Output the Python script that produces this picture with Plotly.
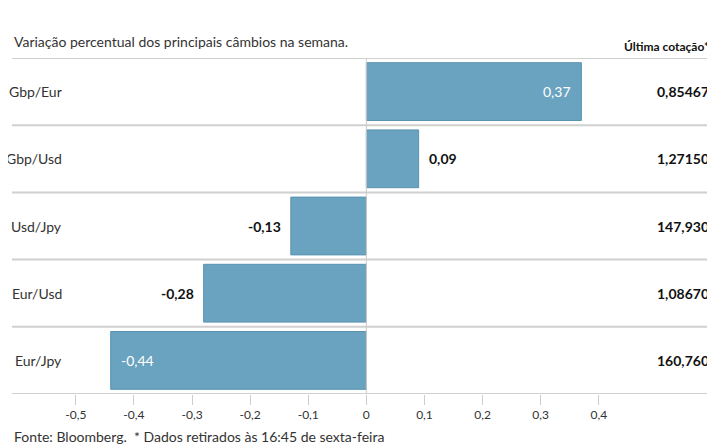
import plotly.graph_objects as go

pairs = ["Gbp/Eur", "Gbp/Usd", "Usd/Jpy", "Eur/Usd", "Eur/Jpy"]
values = [0.37, 0.09, -0.13, -0.28, -0.44]
quotes = ["0,85467", "1,27150", "147,930", "1,08670", "160,760"]
ticks = [-0.5, -0.4, -0.3, -0.2, -0.1, 0, 0.1, 0.2, 0.3, 0.4]

W, H = 715, 445
fnt = "Lato"
fig = go.Figure(go.Bar(y=pairs, x=values, orientation="h", width=0.86,
                       marker=dict(color="#6aa3bf", line=dict(color="#5a93af", width=1))))

def fmt(v):
    return ("%.2f" % v).replace(".", ",")

ann = []
for p, v, q in zip(pairs, values, quotes):
    ann.append(dict(x=0, xref="paper", y=p, yref="y", text=p, showarrow=False,
                    xanchor="right", xshift=-6, font=dict(family=fnt, size=14, color="#333")))
    if abs(v) > 0.3:
        ann.append(dict(x=v, y=p, text=fmt(v), showarrow=False,
                        xanchor="right" if v > 0 else "left", xshift=-8 if v > 0 else 8,
                        font=dict(family=fnt, size=14, color="white")))
    else:
        ann.append(dict(x=v, y=p, text="<b>%s</b>" % fmt(v), showarrow=False,
                        xanchor="left" if v > 0 else "right", xshift=8 if v > 0 else -8,
                        font=dict(family=fnt, size=14, color="#111")))
    ann.append(dict(x=1, xref="paper", y=p, text="<b>%s</b>" % q, showarrow=False,
                    xanchor="right", xshift=-4, font=dict(family=fnt, size=14, color="#111")))
ann += [
    dict(x=0, xref="paper", xshift=-58, y=1.08, yref="paper", text="Variação percentual dos principais câmbios na semana.",
         showarrow=False, xanchor="left", font=dict(family=fnt, size=14, color="#333")),
    dict(x=1, xref="paper", xshift=-4, y=1.005, yref="paper", yanchor="bottom", text="<b>Última cotação*</b>",
         showarrow=False, xanchor="right", font=dict(family=fnt, size=12, color="#111")),
    dict(x=0, xref="paper", xshift=-58, y=-0.095, yref="paper", yanchor="top",
         text="Fonte: Bloomberg.  * Dados retirados às 16:45 de sexta-feira",
         showarrow=False, xanchor="left", font=dict(family=fnt, size=14, color="#333")),
]

shapes = [dict(type="line", xref="paper", x0=-0.09, x1=1, yref="y", y0=k - 0.5, y1=k - 0.5,
               line=dict(color="#d0d0d0", width=2)) for k in range(6)]
shapes.append(dict(type="line", x0=0, x1=0, yref="paper", y0=0, y1=1, line=dict(color="#ccc", width=1)))

fig.update_layout(
    width=W, height=H, margin=dict(l=62, r=8, t=50, b=59),
    paper_bgcolor="white", plot_bgcolor="white", showlegend=False,
    annotations=ann, shapes=shapes,
    xaxis=dict(range=[-0.51, 0.6], tickvals=ticks,
               ticktext=["0" if t == 0 else ("%.1f" % t).replace(".", ",") for t in ticks],
               ticks="outside", ticklen=10, tickcolor="#ccc", showgrid=False, zeroline=False,
               tickfont=dict(family=fnt, size=12, color="#333")),
    yaxis=dict(categoryorder="array", categoryarray=pairs[::-1], range=[-0.5, 4.5],
               showticklabels=False, showgrid=False, zeroline=False),
)
fig.write_html("out.html")
